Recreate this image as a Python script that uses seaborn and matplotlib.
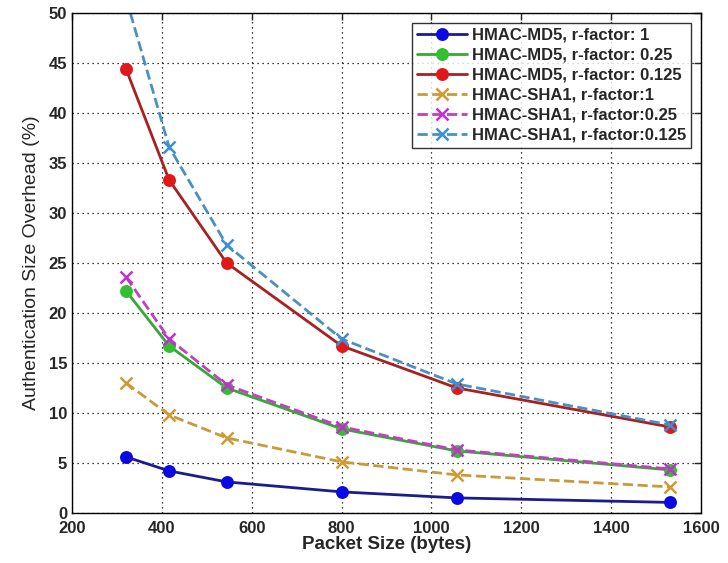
import matplotlib
matplotlib.use("Agg")
import matplotlib.pyplot as plt
import seaborn as sns
import pandas as pd

sns.set_style("white")
plt.rcParams['font.family'] = ['Liberation Sans', 'DejaVu Sans']

packet_sizes = [320, 416, 544, 800, 1056, 1530]
md5_r1 = [5.6, 4.2, 3.1, 2.1, 1.5, 1.05]
md5_r025 = [22.2, 16.7, 12.5, 8.4, 6.2, 4.3]
md5_r0125 = [44.4, 33.3, 25.0, 16.7, 12.5, 8.6]
sha1_r1 = [13.0, 9.8, 7.5, 5.1, 3.8, 2.6]
sha1_r025 = [23.6, 17.4, 12.8, 8.6, 6.3, 4.4]
sha1_r0125 = [51.5, 36.6, 26.8, 17.4, 12.9, 8.8]

labels = ["HMAC-MD5, r-factor: 1", "HMAC-MD5, r-factor: 0.25", "HMAC-MD5, r-factor: 0.125",
          "HMAC-SHA1, r-factor:1", "HMAC-SHA1, r-factor:0.25", "HMAC-SHA1, r-factor:0.125"]
series = [md5_r1, md5_r025, md5_r0125, sha1_r1, sha1_r025, sha1_r0125]

styles = [
    dict(color="#1c1c8c", mfc="#0a0ae0", mec="#0a0ae0", marker="o", ls="-"),
    dict(color="#35a835", mfc="#30c030", mec="#30c030", marker="o", ls="-"),
    dict(color="#a82020", mfc="#e01818", mec="#e01818", marker="o", ls="-"),
    dict(color="#c89a3a", mfc="#d09a30", mec="#d09a30", marker="x", ls="--"),
    dict(color="#c040c0", mfc="#c030d0", mec="#c030d0", marker="x", ls="--"),
    dict(color="#4a90c0", mfc="#3a90d0", mec="#3a90d0", marker="x", ls="--"),
]

fig = plt.figure(figsize=(7.28, 5.63), dpi=100)
ax = fig.add_axes([0.099, 0.089, 0.864, 0.888])

for lab, vals, st in zip(labels, series, styles):
    df = pd.DataFrame({"x": packet_sizes, "y": vals})
    sns.lineplot(data=df, x="x", y="y", ax=ax, color=st["color"], linestyle=st["ls"],
                 linewidth=2, marker=st["marker"], markersize=7.5 if st["marker"] == "o" else 9,
                 markerfacecolor=st["mfc"], markeredgecolor=st["mec"], markeredgewidth=1.8,
                 label=lab)

ax.set_xlim(200, 1600)
ax.set_ylim(0, 50)
ax.set_xticks(range(200, 1601, 200))
ax.set_yticks(range(0, 51, 5))
ax.grid(True, linestyle=(0, (1, 3)), color="black", linewidth=0.9)
ax.tick_params(direction="in", length=5, labelsize=12, top=True, right=True, width=1)
ax.tick_params(axis="x", pad=6)
for lbl in ax.get_xticklabels() + ax.get_yticklabels():
    lbl.set_fontweight("bold")
for sp in ax.spines.values():
    sp.set_color("black")
    sp.set_linewidth(1)
ax.set_xlabel("Packet Size (bytes)", fontsize=13.5, fontweight="bold", labelpad=0)
ax.set_ylabel("Authentication Size Overhead (%)", fontsize=14, labelpad=6)

leg = ax.legend(loc="upper right", fontsize=12, frameon=True, fancybox=False,
                edgecolor="black", borderaxespad=0.6, handlelength=3.0,
                labelspacing=0.3, borderpad=0.3, handletextpad=0.3)
leg.get_frame().set_linewidth(1)
for t in leg.get_texts():
    t.set_fontweight("bold")

fig.savefig("out.png", dpi=100)
